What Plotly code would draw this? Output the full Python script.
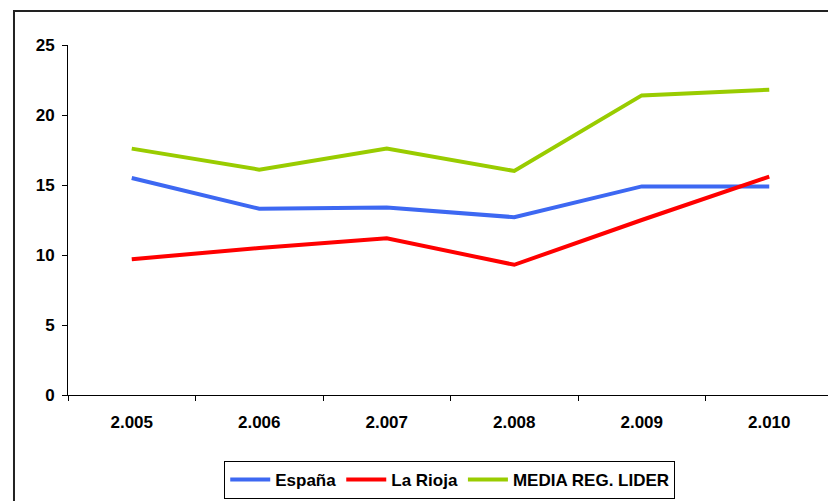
import plotly.graph_objects as go

years = ["2.005", "2.006", "2.007", "2.008", "2.009", "2.010"]
espana = [15.5, 13.3, 13.4, 12.7, 14.9, 14.9]
la_rioja = [9.7, 10.5, 11.2, 9.3, 12.5, 15.6]
media_lider = [17.6, 16.1, 17.6, 16.0, 21.4, 21.8]

series = [
    ("España", espana, "#3D68F2"),
    ("La Rioja", la_rioja, "#FF0000"),
    ("MEDIA REG. LIDER", media_lider, "#99CC00"),
]

fig = go.Figure()
for name, vals, color in series:
    fig.add_trace(
        go.Scatter(
            x=years,
            y=vals,
            mode="lines",
            name=name,
            line={"color": color, "width": 4},
        )
    )

font = {"family": "Liberation Sans, Arial, sans-serif", "color": "black"}

# page body adds an 8px offset, so margins are shifted to compensate
fig.update_layout(
    width=836,
    height=501,
    margin={"l": 60, "r": 11, "t": 37, "b": 113},
    paper_bgcolor="white",
    plot_bgcolor="white",
    font=font,
    showlegend=True,
    legend={
        "orientation": "h",
        "x": 0.499,
        "xanchor": "center",
        "y": -0.185,
        "yanchor": "top",
        "bordercolor": "black",
        "borderwidth": 1,
        "bgcolor": "white",
        "font": {"size": 17, "family": font["family"], "weight": "bold"},
        "tracegroupgap": 0,
        "itemwidth": 40,
    },
    xaxis={
        "type": "category",
        "range": [-0.5, 5.5],
        "showgrid": False,
        "showline": True,
        "linecolor": "black",
        "linewidth": 1,
        "ticks": "outside",
        "tickson": "boundaries",
        "ticklen": 5,
        "tickcolor": "black",
        "tickfont": {"size": 17, "weight": "bold"},
        "ticklabelstandoff": 12,
        "zeroline": False,
    },
    yaxis={
        "range": [0, 25],
        "dtick": 5,
        "showgrid": False,
        "showline": True,
        "linecolor": "black",
        "linewidth": 1,
        "ticks": "outside",
        "ticklen": 5,
        "tickcolor": "black",
        "tickfont": {"size": 17, "weight": "bold"},
        "ticklabelstandoff": 4,
        "zeroline": False,
    },
    shapes=[
        {
            "type": "rect",
            "xref": "paper",
            "yref": "paper",
            "x0": -0.0706,
            "x1": 1.05,
            "y0": -0.35,
            "y1": 1.0969,
            "line": {"color": "#222222", "width": 2},
            "fillcolor": "rgba(0,0,0,0)",
            "layer": "below",
        }
    ],
)

fig.write_html("out.html")
